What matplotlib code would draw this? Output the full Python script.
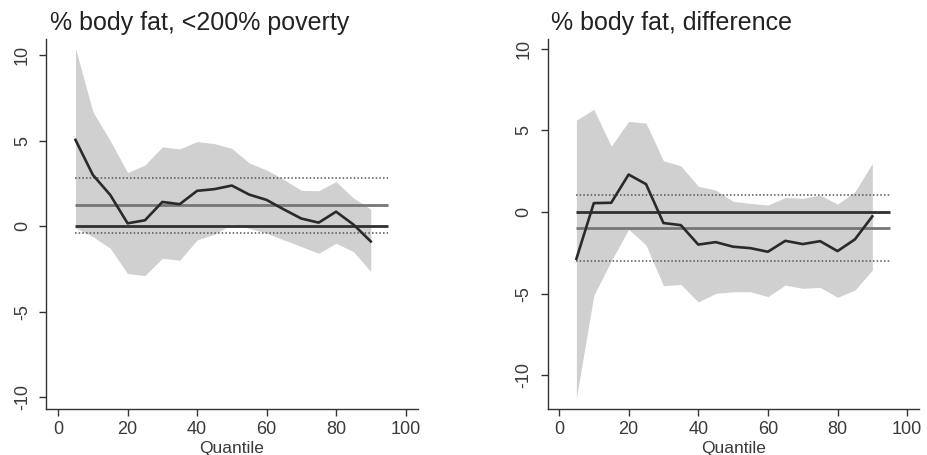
import matplotlib
matplotlib.use("Agg")
import matplotlib.pyplot as plt

plt.rcParams['font.family'] = ['Liberation Sans', 'DejaVu Sans']

quantiles = [5, 10, 15, 20, 25, 30, 35, 40, 45, 50, 55, 60, 65, 70, 75, 80, 85, 90]

# left panel: <200% poverty
poor_coef = [5.05, 3.0, 1.83, 0.17, 0.35, 1.42, 1.29, 2.07, 2.17, 2.38, 1.85, 1.54, 0.98, 0.45, 0.21, 0.85, 0.1, -0.89]
poor_upper = [10.4, 6.7, 5.0, 3.14, 3.58, 4.64, 4.52, 4.95, 4.83, 4.55, 3.7, 3.29, 2.73, 2.1, 2.08, 2.61, 1.65, 1.0]
poor_lower = [-0.1, -0.61, -1.29, -2.77, -2.88, -1.87, -1.99, -0.8, -0.47, 0.12, -0.12, -0.41, -0.8, -1.19, -1.58, -1.0, -1.48, -2.65]
poor_ols = 1.23
poor_ols_ci = [-0.37, 2.83]

# right panel: difference
diff_coef = [-2.86, 0.55, 0.57, 2.3, 1.71, -0.67, -0.8, -1.99, -1.84, -2.12, -2.21, -2.43, -1.76, -1.96, -1.78, -2.39, -1.67, -0.26]
diff_upper = [5.63, 6.29, 4.04, 5.55, 5.45, 3.14, 2.83, 1.58, 1.35, 0.66, 0.53, 0.43, 0.89, 0.84, 1.04, 0.49, 1.25, 2.98]
diff_lower = [-11.4, -5.1, -3.0, -1.05, -2.02, -4.51, -4.43, -5.51, -4.98, -4.88, -4.88, -5.18, -4.47, -4.67, -4.61, -5.22, -4.78, -3.55]
diff_ols = -1.0
diff_ols_ci = [-3.02, 1.04]

titles = ['% body fat, <200% poverty', '% body fat, difference']
yticks = [-10, -5, 0, 5, 10]
xticks = [0, 20, 40, 60, 80, 100]

fig = plt.figure(figsize=(9.28, 4.55), dpi=100)
ax1 = fig.add_axes([0.0499, 0.1018, 0.4002, 0.8125])
ax2 = fig.add_axes([0.5905, 0.1018, 0.3998, 0.8125])

panels = [
    (ax1, poor_coef, poor_upper, poor_lower, poor_ols, poor_ols_ci, (-10.67, 10.95), (-3.4, 103.5)),
    (ax2, diff_coef, diff_upper, diff_lower, diff_ols, diff_ols_ci, (-12.04, 10.6), (-3.16, 103.4)),
]

for ax, coef, upper, lower, ols, ols_ci, ylim, xlim in panels:
    # confidence band for quantile estimates
    ax.fill_between(quantiles, lower, upper, color='#d0d0d0', linewidth=0, zorder=1)
    # OLS estimate and its confidence interval
    ax.hlines(ols, 5, 95, color='#777777', linewidth=2, zorder=2)
    for c in ols_ci:
        ax.hlines(c, 5, 95, color='#555555', linewidth=1.1, linestyles=(0, (1, 1.4)), zorder=2)
    ax.hlines(0, 5, 95, color='#303030', linewidth=2, zorder=3)
    # quantile regression estimates
    ax.plot(quantiles, coef, color='#2a2a2a', linewidth=1.9, zorder=4)

    ax.set_xlim(*xlim)
    ax.set_ylim(*ylim)
    ax.set_xticks(xticks)
    ax.set_yticks(yticks)
    ax.set_yticklabels([str(t) for t in yticks], rotation=90, va='center')
    ax.tick_params(axis='both', labelsize=13, color='#333333', labelcolor='#3a3a3a',
                   length=5, width=1)
    ax.tick_params(axis='y', pad=6)
    ax.tick_params(axis='x', pad=4)
    for side in ['top', 'right']:
        ax.spines[side].set_visible(False)
    for side in ['left', 'bottom']:
        ax.spines[side].set_color('#333333')
        ax.spines[side].set_linewidth(1)
    ax.set_xlabel('Quantile', fontsize=12.5, color='#3a3a3a', labelpad=2)

# titles sit above each panel, left aligned
fig.text(50 / 928, 0.935, titles[0], fontsize=18, color='#222222', va='baseline', ha='left')
fig.text(551 / 928, 0.935, titles[1], fontsize=18, color='#222222', va='baseline', ha='left')

fig.savefig('out.png', dpi=100)
